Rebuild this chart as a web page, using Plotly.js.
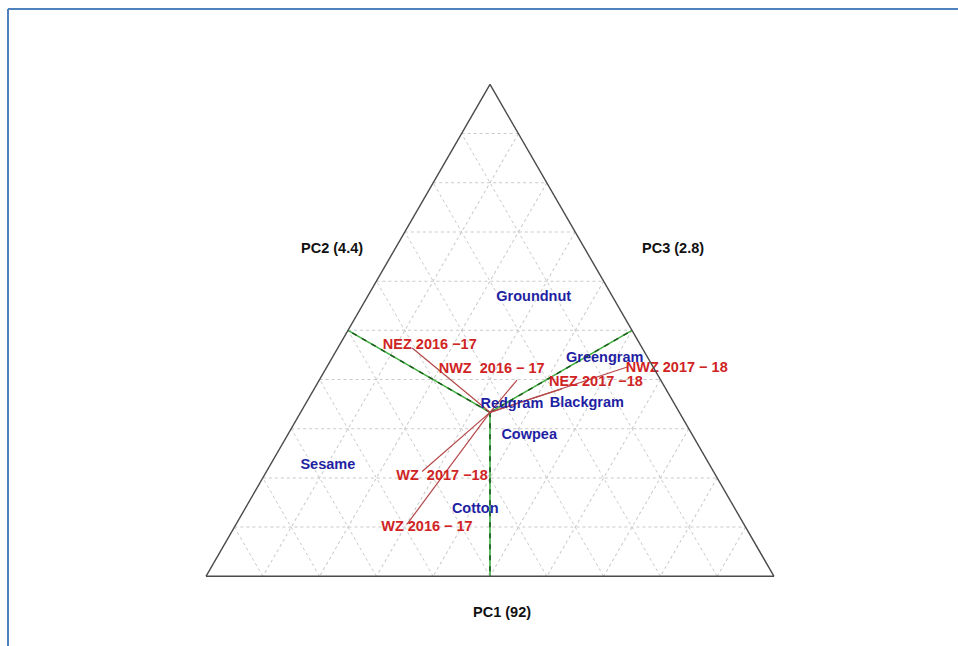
<!DOCTYPE html>
<html>
<head>
<meta charset="utf-8">
<script src="https://cdn.plot.ly/plotly-3.0.1.min.js"></script>
<style>
  html, body { margin: 0; padding: 0; background: #ffffff; }
  #chart { width: 958px; height: 646px; }
</style>
</head>
<body>
<div id="chart"></div>
<script>
// ---- Data (ternary coordinates: a = top vertex, b = bottom-left, c = bottom-right) ----
const genotypes = ['Groundnut', 'Greengram', 'Redgram', 'Blackgram', 'Cowpea', 'Sesame', 'Cotton'];
const genoA = [0.566, 0.442, 0.349, 0.351, 0.286, 0.225, 0.136];
const genoB = [0.140, 0.077, 0.287, 0.154, 0.288, 0.673, 0.458];
const genoC = [0.294, 0.481, 0.364, 0.495, 0.426, 0.102, 0.406];

const environments = ['NEZ 2016 \u221217', 'NWZ\u00a0 2016 \u2212 17', 'NEZ 2017 \u221218',
                      'NWZ 2017 \u2212 18', 'WZ\u00a0 2017 \u221218', 'WZ 2016 \u2212 17'];
// label anchor positions
const envLabelA = [0.470, 0.420, 0.395, 0.422, 0.203, 0.100];
const envLabelB = [0.371, 0.287, 0.116, 0.050, 0.483, 0.561];
const envLabelC = [0.159, 0.293, 0.489, 0.528, 0.314, 0.339];
const envLabelPos = ['middle center', 'middle center', 'middle center',
                     'middle right', 'middle center', 'middle center'];
// vector end points
const envEndA = [0.464, 0.399, 0.381, 0.426, 0.213, 0.106];
const envEndB = [0.405, 0.253, 0.183, 0.044, 0.513, 0.593];
const envEndC = [0.131, 0.348, 0.436, 0.530, 0.274, 0.301];

// biplot origin and the side points of the green sector lines
const origin = [1/3, 1/3, 1/3];
const sideA = [0.5, 0.5, 0.0];
const sideB = [0.5, 0.0, 0.5];
const sideC = [0.0, 0.5, 0.5];

const axisTitles = ['PC1 (92)', 'PC2 (4.4)', 'PC3 (2.8)'];

// ---- Build traces ----
function segs(endA, endB, endC) {
  const a = [], b = [], c = [];
  for (let i = 0; i < endA.length; i++) {
    a.push(origin[0], endA[i], null);
    b.push(origin[1], endB[i], null);
    c.push(origin[2], endC[i], null);
  }
  return {a, b, c};
}

const green = segs(sideA, sideB, sideC);
const red = segs(envEndA, envEndB, envEndC);

const FONT = 'Liberation Sans, Arial, sans-serif';
const FS = 14.5;

const traces = [
  Object.assign({type: 'scatterternary', mode: 'lines', hoverinfo: 'skip',
    line: {color: '#3fae3f', width: 1.6}}, green),
  Object.assign({type: 'scatterternary', mode: 'lines', hoverinfo: 'skip',
    line: {color: '#1d5a1d', width: 1.6, dash: '5px,6px'}}, green),
  Object.assign({type: 'scatterternary', mode: 'lines', hoverinfo: 'skip',
    line: {color: '#b5474a', width: 1.2}}, red),
  {type: 'scatterternary', mode: 'text', hoverinfo: 'skip', cliponaxis: false,
    a: genoA, b: genoB, c: genoC, text: genotypes, textposition: 'middle center',
    textfont: {family: FONT, size: FS, color: '#1f1fa3', weight: 700}},
  {type: 'scatterternary', mode: 'text', hoverinfo: 'skip', cliponaxis: false,
    a: envLabelA, b: envLabelB, c: envLabelC, text: environments, textposition: envLabelPos,
    textfont: {family: FONT, size: FS, color: '#d02424', weight: 700}}
];

const axisStyle = {
  min: 0, tick0: 0, dtick: 0.1,
  showgrid: true, gridcolor: '#c9c9c9', griddash: 'dot', gridwidth: 1,
  showline: true, linecolor: '#4a4a4a', linewidth: 1.4,
  ticks: '', showticklabels: false, title: {text: ''}
};

const W = 958, H = 646;
const layout = {
  width: W, height: H,
  margin: {l: 0, r: 0, t: 0, b: 0},
  paper_bgcolor: '#ffffff',
  showlegend: false,
  font: {family: FONT},
  ternary: {
    sum: 1,
    domain: {x: [206 / W, 774 / W], y: [(H - 576.3) / H, (H - 84.4) / H]},
    bgcolor: '#ffffff',
    aaxis: Object.assign({}, axisStyle),
    baxis: Object.assign({}, axisStyle),
    caxis: Object.assign({}, axisStyle)
  },
  annotations: [
    {text: axisTitles[0], x: 502 / W, y: 1 - 611.5 / H},
    {text: axisTitles[1], x: 332 / W, y: 1 - 248.3 / H},
    {text: axisTitles[2], x: 673 / W, y: 1 - 248.3 / H}
  ].map(an => Object.assign({xref: 'paper', yref: 'paper', showarrow: false,
    xanchor: 'center', yanchor: 'middle',
    font: {family: FONT, size: 14.5, color: '#111111', weight: 700}}, an)),
  shapes: [
    {type: 'line', xref: 'paper', yref: 'paper', x0: 8 / W, x1: 1, y0: 1 - 9 / H, y1: 1 - 9 / H,
      line: {color: '#4f81bd', width: 2}},
    {type: 'line', xref: 'paper', yref: 'paper', x0: 8 / W, x1: 8 / W, y0: 1 - 9 / H, y1: 0,
      line: {color: '#4f81bd', width: 2}}
  ]
};

Plotly.newPlot('chart', traces, layout, {displayModeBar: false, staticPlot: true});
</script>
</body>
</html>
